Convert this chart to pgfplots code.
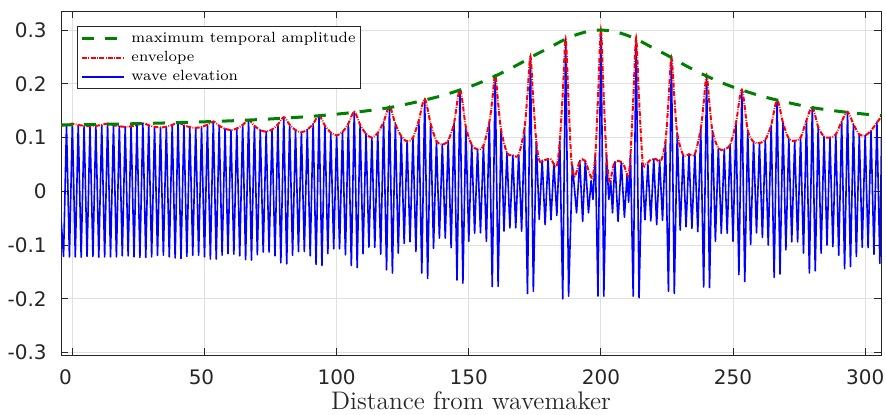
\documentclass[border=0pt]{standalone}
\usepackage{pgfplots}
\pgfplotsset{compat=1.18}
\usepackage{fontspec}
\newfontfamily\dejavu{DejaVu Sans}
\definecolor{mgreen}{rgb}{0,0.5,0}
\definecolor{axgray}{rgb}{0.15,0.15,0.15}

\begin{document}
\begin{tikzpicture}
\begin{axis}[
    scale only axis, width=410pt, height=172pt,
    xmin=-4.3, xmax=306, ymin=-0.3045, ymax=0.3355,
    xtick={0,50,100,150,200,250,300},
    xticklabels={\makebox[0pt][c]{0\hspace*{7pt}},\makebox[0pt][c]{50\hspace*{3pt}},100,150,200,250,300},
    ytick={-0.3,-0.2,-0.1,0,0.1,0.2,0.3},
    yticklabels={-0.3,-0.2,-0.1,0,0.1,0.2,0.3},
    tick label style={font=\fontsize{10}{11}\dejavu, text=axgray},
    xticklabel style={anchor=base, inner sep=0pt, yshift=-14.5pt},
    yticklabel style={anchor=east, inner sep=0pt, xshift=-7pt},
    major tick length=3.5pt, tick align=inside,
    tick style={axgray, line width=0.5pt},
    axis line style={axgray, line width=0.5pt},
    grid=major, grid style={black!12, line width=0.5pt},
    xlabel={Distance from wavemaker},
    xlabel style={font=\fontsize{12.7}{14}\selectfont, text=axgray, inner sep=0pt,
        at={(axis description cs:0.5,0)}, anchor=base, yshift=-27pt},
    reverse legend,
    legend style={at={(0.0195,0.956)}, anchor=north west, draw=axgray,
        line width=0.5pt, fill=white, font=\fontsize{7.4}{9}\selectfont,
        inner xsep=1.5pt, inner ysep=1.1pt, row sep=0pt,
        nodes={inner xsep=1pt, inner ysep=1.2pt, text height=5.6pt, text depth=1.6pt},
        cells={anchor=west}},
    legend image code/.code={\draw[#1] (0pt,0pt) -- (21pt,0pt); \path (23pt,0pt);},
]

% wave elevation
\addplot[blue, line width=0.8pt, line join=round] coordinates {
(-4.3,-0.05) (-3.33,-0.121) (-2.22,0.1235) (-1.11,-0.122)
(0,0.126) (1.11,-0.122) (2.22,0.1235) (3.33,-0.1225) (4.44,0.122) (5.56,-0.121) (6.67,0.121) (7.78,-0.121) (8.89,0.122) (10,-0.1225) (11.11,0.1235) (12.22,-0.122)
(13.33,0.126) (14.44,-0.122) (15.56,0.123) (16.67,-0.122) (17.78,0.121) (18.89,-0.120) (20,0.120) (21.11,-0.120) (22.22,0.121) (23.33,-0.122) (24.44,0.1235) (25.56,-0.123)
(26.67,0.127) (27.78,-0.123) (28.89,0.123) (30,-0.122) (31.11,0.120) (32.22,-0.119) (33.33,0.119) (34.44,-0.119) (35.56,0.120) (36.67,-0.122) (37.78,0.1235) (38.89,-0.124)
(40,0.128) (41.11,-0.125) (42.22,0.123) (43.33,-0.121) (44.44,0.1195) (45.56,-0.119) (46.67,0.118) (47.78,-0.119) (48.89,0.120) (50,-0.122) (51.11,0.124) (52.22,-0.126)
(53.33,0.130) (54.44,-0.126) (55.56,0.122) (56.67,-0.119) (57.78,0.1165) (58.89,-0.116) (60,0.114) (61.11,-0.117) (62.22,0.117) (63.33,-0.120) (64.44,0.1235) (65.56,-0.127)
(66.67,0.133) (67.78,-0.128) (68.89,0.122) (70,-0.118) (71.11,0.114) (72.22,-0.113) (73.33,0.111) (74.44,-0.113) (75.56,0.115) (76.67,-0.120) (77.78,0.1245) (78.89,-0.133)
(80,0.138) (81.11,-0.135) (82.22,0.124) (83.33,-0.119) (84.44,0.114) (85.56,-0.112) (86.67,0.110) (87.78,-0.112) (88.89,0.1147) (90,-0.120) (91.11,0.1255) (92.22,-0.136)
(93.33,0.141) (94.44,-0.138) (95.56,0.1225) (96.67,-0.116) (97.78,0.1096) (98.89,-0.107) (100,0.104) (101.11,-0.107) (102.22,0.1106) (103.33,-0.118) (104.44,0.126) (105.56,-0.138)
(106.67,0.148) (107.78,-0.142) (108.89,0.124) (110,-0.116) (111.11,0.1072) (112.22,-0.104) (113.33,0.100) (114.44,-0.104) (115.56,0.1087) (116.67,-0.117) (117.78,0.129) (118.89,-0.146)
(120,0.158) (121.11,-0.152) (122.22,0.1255) (123.33,-0.115) (124.44,0.1028) (125.56,-0.097) (126.67,0.093) (127.78,-0.094) (128.89,0.100) (130,-0.112) (131.11,0.1325) (132.22,-0.152)
(133.33,0.172) (134.44,-0.162) (135.56,0.126) (136.67,-0.106) (137.78,0.094) (138.89,-0.087) (140,0.087) (141.11,-0.087) (142.22,0.095) (143.33,-0.105) (144.44,0.127) (145.56,-0.165)
(146.67,0.190) (147.78,-0.171) (148.89,0.120) (150,-0.093) (151.11,0.087) (152.22,-0.078) (153.33,0.078) (154.44,-0.077) (155.56,0.085) (156.67,-0.093) (157.78,0.129) (158.89,-0.177)
(160,0.217) (161.11,-0.177) (162.22,0.115) (163.33,-0.074) (164.44,0.072) (165.56,-0.068) (166.67,0.067) (167.78,-0.068) (168.89,0.068) (170,-0.074) (171.11,0.118) (172.22,-0.190)
(173.33,0.251) (174.44,-0.186) (175.56,0.093) (176.67,-0.052) (177.78,0.058) (178.89,-0.062) (180,0.060) (181.11,-0.053) (182.22,0.052) (183.33,-0.045) (184.44,0.093) (185.56,-0.200)
(186.67,0.283) (187.78,-0.195) (189.2,0.050) (190.8,-0.040) (192,0.057) (193.1,-0.056) (194.1,0.057) (195.3,-0.040) (196.3,0.020) (197,-0.015) (197.9,0.068) (198.89,-0.195)
(200,0.300) (201.11,-0.195) (202.1,0.068) (203,-0.015) (203.7,0.020) (204.4,-0.040) (205.3,0.055) (206.5,-0.056) (207.7,0.055) (208.9,-0.048) (209.9,0.030) (210.5,-0.020) (211.2,0.068) (212.22,-0.195)
(213.33,0.285) (214.44,-0.198) (215.56,0.053) (216.67,-0.053) (217.78,0.050) (218.89,-0.055) (220,0.060) (221.11,-0.062) (222.22,0.058) (223.33,-0.054) (224.44,0.093) (225.56,-0.186)
(226.67,0.249) (227.78,-0.190) (228.89,0.108) (230,-0.072) (231.11,0.068) (232.22,-0.066) (233.33,0.069) (234.44,-0.069) (235.56,0.070) (236.67,-0.075) (237.78,0.116) (238.89,-0.178)
(240,0.216) (241.11,-0.179) (242.22,0.112) (243.33,-0.093) (244.44,0.080) (245.56,-0.078) (246.67,0.078) (247.78,-0.078) (248.89,0.087) (250,-0.093) (251.11,0.127) (252.22,-0.155)
(253.33,0.189) (254.44,-0.168) (255.56,0.114) (256.67,-0.099) (257.78,0.092) (258.89,-0.077) (260,0.090) (261.11,-0.086) (262.22,0.096) (263.33,-0.100) (264.44,0.123) (265.56,-0.160)
(266.67,0.170) (267.78,-0.154) (268.89,0.128) (270,-0.109) (271.11,0.098) (272.22,-0.094) (273.33,0.094) (274.44,-0.094) (275.56,0.100) (276.67,-0.115) (277.78,0.132) (278.89,-0.152)
(280,0.157) (281.11,-0.148) (282.22,0.120) (283.33,-0.115) (284.44,0.102) (285.56,-0.100) (286.67,0.100) (287.78,-0.103) (288.89,0.106) (290,-0.119) (291.11,0.130) (292.22,-0.144)
(293.33,0.148) (294.44,-0.140) (295.56,0.125) (296.67,-0.121) (297.78,0.106) (298.89,-0.104) (300,0.104) (301.11,-0.105) (302.22,0.113) (303.33,-0.117) (304.44,0.128) (305.56,-0.134) (306.2,0.100)
};
\addlegendentry{wave elevation}

% envelope
\addplot[red, line width=1pt, smooth, dash pattern=on 2.5pt off 0.7pt on 0.4pt off 0.7pt] coordinates {
(-4.3,0.122) (-2.22,0.1235) (0,0.126) (2.22,0.1235) (4.44,0.122) (6.67,0.121) (8.89,0.122) (11.11,0.1235)
(13.33,0.126) (15.56,0.123) (17.78,0.121) (20,0.120) (22.22,0.121) (24.44,0.1235)
(26.67,0.127) (28.89,0.123) (31.11,0.120) (33.33,0.119) (35.56,0.120) (37.78,0.1235)
(40,0.128) (42.22,0.123) (44.44,0.1195) (46.67,0.118) (48.89,0.120) (51.11,0.124)
(53.33,0.130) (55.56,0.122) (57.78,0.1165) (60,0.114) (62.22,0.117) (64.44,0.1235)
(66.67,0.133) (68.89,0.122) (71.11,0.114) (73.33,0.111) (75.56,0.115) (77.78,0.1245)
(80,0.138) (82.22,0.124) (84.44,0.114) (86.67,0.110) (88.89,0.1147) (91.11,0.1255)
(93.33,0.141) (95.56,0.1225) (97.78,0.1096) (100,0.104) (102.22,0.1106) (104.44,0.126)
(106.67,0.148) (108.89,0.124) (111.11,0.1072) (113.33,0.100) (115.56,0.1087) (117.78,0.129)
(120,0.158) (122.22,0.1255) (124.44,0.1028) (126.67,0.093) (128.89,0.100) (131.11,0.1325)
(133.33,0.172) (135.56,0.126) (137.78,0.094) (140,0.087) (142.22,0.095) (144.44,0.127)
(146.67,0.190) (148.89,0.120) (151.11,0.087) (153.33,0.078) (155.56,0.085) (157.78,0.129)
(158.9,0.170) (160,0.217) (161.1,0.165) (162.22,0.115) (164.44,0.072) (166.67,0.067) (168.89,0.068) (171.11,0.118)
(172.2,0.180) (173.33,0.251) (174.4,0.170) (175.56,0.093) (176.8,0.056) (178.7,0.058) (181,0.060) (183.2,0.046) (184.44,0.093)
(185.6,0.185) (186.67,0.283) (187.7,0.175) (188.8,0.060) (190.1,0.028) (192,0.056) (194,0.057) (196.6,0.025) (197.9,0.068)
(199,0.185) (200,0.300) (201,0.185) (202.1,0.068) (203.3,0.019) (204.9,0.050) (206.5,0.057) (208.6,0.050) (210.3,0.028) (211.2,0.068)
(212.3,0.178) (213.33,0.285) (214.4,0.175) (215.8,0.056) (217,0.050) (218.9,0.059) (220.8,0.060) (222.7,0.056) (224.44,0.093)
(225.6,0.170) (226.67,0.249) (227.8,0.175) (228.89,0.108) (231.11,0.068) (233.33,0.069) (235.56,0.070) (237.78,0.116)
(238.9,0.165) (240,0.216) (241.1,0.162) (242.22,0.112) (244.44,0.080) (246.67,0.078) (248.89,0.087) (251.11,0.127)
(253.33,0.189) (255.56,0.114) (257.78,0.092) (260,0.090) (262.22,0.096) (264.44,0.123)
(266.67,0.170) (268.89,0.128) (271.11,0.098) (273.33,0.094) (275.56,0.100) (277.78,0.132)
(280,0.157) (282.22,0.120) (284.44,0.102) (286.67,0.100) (288.89,0.106) (291.11,0.130)
(293.33,0.148) (295.56,0.125) (297.78,0.106) (300,0.104) (302.22,0.113) (304.44,0.128) (306,0.138)
};
\addlegendentry{envelope}

% maximum temporal amplitude
\addplot[mgreen, line width=1.5pt, smooth, dash pattern=on 6pt off 5.5pt] coordinates {
(-4.3,0.1235) (0,0.1238) (10,0.1246) (20,0.1255) (30,0.1266) (40,0.1279) (50,0.1294)
(60,0.1312) (70,0.1334) (80,0.1361) (90,0.1394) (100,0.1436) (110,0.1489) (120,0.1558)
(130,0.1660) (140,0.1782) (150,0.1941) (155,0.2037) (160,0.2145) (165,0.2265) (170,0.2395)
(175,0.2535) (180,0.2660) (185,0.2792) (190,0.2901) (195,0.2974) (200,0.3000)
(205,0.2974) (210,0.2901) (215,0.2792) (220,0.2660) (225,0.2535) (230,0.2395) (235,0.2265)
(240,0.2145) (245,0.2037) (250,0.1941) (260,0.1782) (270,0.1660) (280,0.1558) (290,0.1489)
(300,0.1436) (306,0.1410)
};
\addlegendentry{maximum temporal amplitude}

\end{axis}
\pgfresetboundingbox
\path (-30.5pt,-29.5pt) rectangle (412.5pt,177.5pt);
\end{tikzpicture}
\end{document}
